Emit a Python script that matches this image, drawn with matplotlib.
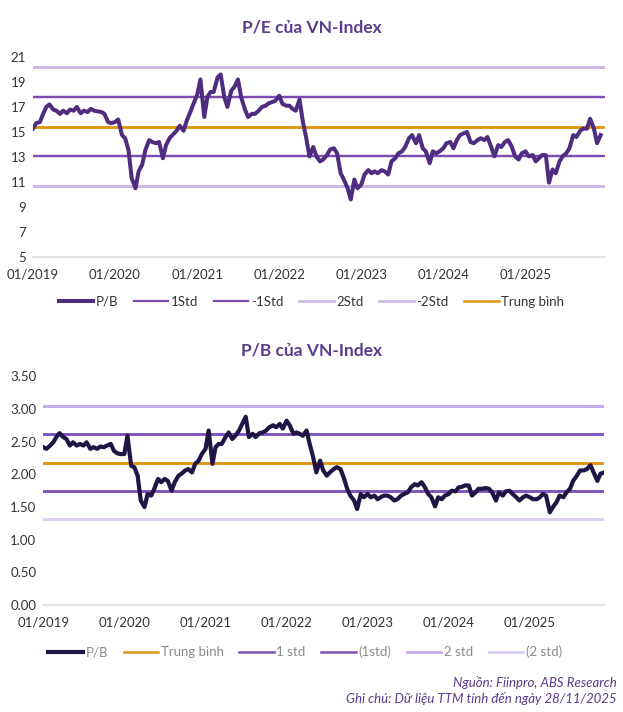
import matplotlib
matplotlib.use('Agg')
import numpy as np
import pandas as pd
import matplotlib.pyplot as plt
import matplotlib.dates as mdates

plt.rcParams['font.family'] = ['Lato', 'DejaVu Sans']

# semi-monthly readings, 01/2019 .. 11/2025
dates = pd.date_range('2019-01-01', periods=167, freq='SMS')

pe_values = [
    15.27, 15.7, 15.8, 16.45, 17.0, 17.2, 16.8, 16.7, 16.45, 16.7,
    16.5, 16.8, 16.7, 17.0, 16.5, 16.7, 16.6, 16.85, 16.7, 16.65,
    16.6, 16.45, 15.8, 15.7, 15.8, 16.0, 14.75, 14.5, 13.55, 11.3,
    10.5, 11.85, 12.4, 13.55, 14.35, 14.2, 14.1, 14.2, 12.9, 13.95,
    14.55, 14.8, 15.1, 15.5, 15.1, 15.9, 16.6, 17.25, 18.0, 19.2,
    16.2, 17.8, 18.2, 18.2, 19.35, 19.6, 17.8, 17.0, 18.3, 18.6,
    19.2, 17.8, 16.8, 16.2, 16.45, 16.45, 16.7, 17.0, 17.1, 17.3,
    17.4, 17.5, 17.9, 17.25, 17.1, 17.1, 16.85, 16.7, 17.6, 15.9,
    14.5, 13.05, 13.8, 13.05, 12.65, 12.8, 13.15, 13.6, 13.7, 13.3,
    11.7, 11.2, 10.5, 9.6, 11.2, 10.5, 10.8, 11.6, 11.95, 11.7,
    11.85, 11.7, 11.95, 11.85, 11.6, 12.65, 12.9, 13.3, 13.45, 13.8,
    14.5, 14.75, 14.1, 14.75, 13.7, 13.45, 12.5, 13.45, 13.3, 13.45,
    13.7, 14.1, 14.2, 13.7, 14.35, 14.75, 14.9, 15.0, 14.2, 14.1,
    14.35, 14.5, 14.35, 14.6, 13.8, 13.05, 13.95, 13.8, 14.2, 14.35,
    13.8, 13.05, 12.8, 13.3, 13.45, 13.05, 13.15, 12.65, 12.9, 13.15,
    13.15, 10.95, 12.0, 11.7, 12.65, 13.05, 13.3, 13.7, 14.75, 14.6,
    15.1, 15.27, 15.27, 16.05, 15.27, 14.1, 14.75,
]

pb_values = [
    2.415, 2.39, 2.44, 2.49, 2.57, 2.63, 2.57, 2.54, 2.44, 2.49,
    2.44, 2.465, 2.44, 2.49, 2.39, 2.415, 2.39, 2.425, 2.415, 2.44,
    2.465, 2.36, 2.32, 2.31, 2.31, 2.59, 2.13, 2.11, 1.98, 1.60,
    1.50, 1.70, 1.675, 1.78, 1.93, 1.88, 1.93, 1.90, 1.75, 1.88,
    1.98, 2.01, 2.06, 2.08, 2.03, 2.16, 2.21, 2.31, 2.39, 2.67,
    2.16, 2.415, 2.465, 2.465, 2.57, 2.64, 2.54, 2.59, 2.67, 2.77,
    2.88, 2.57, 2.62, 2.57, 2.63, 2.64, 2.67, 2.72, 2.75, 2.72,
    2.77, 2.70, 2.82, 2.75, 2.62, 2.64, 2.62, 2.59, 2.67, 2.465,
    2.26, 2.03, 2.21, 2.06, 1.98, 2.03, 2.08, 2.11, 2.08, 1.955,
    1.78, 1.675, 1.60, 1.47, 1.70, 1.65, 1.70, 1.65, 1.675, 1.62,
    1.65, 1.675, 1.675, 1.65, 1.60, 1.62, 1.675, 1.70, 1.725, 1.80,
    1.85, 1.83, 1.88, 1.81, 1.70, 1.65, 1.51, 1.65, 1.62, 1.675,
    1.70, 1.75, 1.74, 1.80, 1.81, 1.83, 1.83, 1.675, 1.725, 1.78,
    1.78, 1.79, 1.78, 1.725, 1.60, 1.725, 1.675, 1.74, 1.75, 1.70,
    1.65, 1.60, 1.65, 1.675, 1.65, 1.62, 1.62, 1.65, 1.70, 1.675,
    1.42, 1.50, 1.575, 1.675, 1.65, 1.725, 1.78, 1.90, 1.98, 2.06,
    2.06, 2.08, 2.14, 2.03, 1.90, 2.01, 2.03,
]

pe_mean, pe_std = 15.42, 2.37
pb_mean, pb_std = 2.18, 0.435

pe_yticks = [5, 7, 9, 11, 13, 15, 17, 19, 21]
pb_yticks = [0.0, 0.5, 1.0, 1.5, 2.0, 2.5, 3.0, 3.5]
xtick_dates = pd.to_datetime(['2019-01-01', '2020-01-01', '2021-01-01', '2022-01-01',
                              '2023-01-01', '2024-01-01', '2025-01-01'])

title_col = '#5a3d8c'
text_col = '#333333'
orange = '#e0950f'

fig = plt.figure(figsize=(6.23, 7.12), dpi=100)


def style_axes(ax, xmax):
    for s in ['top', 'right', 'left']:
        ax.spines[s].set_visible(False)
    ax.spines['bottom'].set_color('#e3e3e3')
    ax.spines['bottom'].set_linewidth(1.5)
    ax.tick_params(length=0, labelsize=9.5, colors=text_col)
    ax.tick_params(axis='x', pad=8)
    ax.tick_params(axis='y', pad=5)
    ax.set_xticks(xtick_dates)
    ax.xaxis.set_major_formatter(mdates.DateFormatter('%m/%Y'))
    ax.set_xlim(pd.Timestamp('2019-01-01'), pd.Timestamp(xmax))


# ---- P/E ----
ax1 = fig.add_axes([0.053, 0.639, 0.918, 0.281])
x = dates
ax1.plot(x, [pe_mean + pe_std] * len(x), color='#7b4db3', lw=1.6, label='1Std')
ax1.plot(x, [pe_mean - pe_std] * len(x), color='#7b4db3', lw=1.6, label='-1Std')
ax1.plot(x, [pe_mean + 2 * pe_std] * len(x), color='#cdb9e6', lw=2.0, label='2Std')
ax1.plot(x, [pe_mean - 2 * pe_std] * len(x), color='#cdb9e6', lw=2.0, label='-2Std')
ax1.plot(x, [pe_mean] * len(x), color=orange, lw=1.8, label='Trung bình')
ax1.plot(x, pe_values, color='#4f2c80', lw=2.9, label='P/B')
ax1.axhline(pe_mean + pe_std, color='#7b4db3', lw=1.6, zorder=1)
ax1.axhline(pe_mean - pe_std, color='#7b4db3', lw=1.6, zorder=1)
ax1.axhline(pe_mean + 2 * pe_std, color='#cdb9e6', lw=2.0, zorder=1)
ax1.axhline(pe_mean - 2 * pe_std, color='#cdb9e6', lw=2.0, zorder=1)
ax1.axhline(pe_mean, color=orange, lw=1.8, zorder=1)
ax1.set_ylim(5, 21)
ax1.set_yticks(pe_yticks)
style_axes(ax1, '2025-12-20')
h, l = ax1.get_legend_handles_labels()
order = [5, 0, 1, 2, 3, 4]
ax1.legend([h[i] for i in order], [l[i] for i in order], loc='center',
           bbox_to_anchor=(0.5, 0.576), bbox_transform=fig.transFigure, ncol=6,
           frameon=False, fontsize=9.5, handlelength=2.6, handletextpad=0.2,
           columnspacing=1.2, labelcolor=text_col)
fig.text(0.5, 0.962, 'P/E của VN-Index', ha='center', va='center', fontsize=12.5,
         fontweight='bold', color=title_col)

# ---- P/B ----
ax2 = fig.add_axes([0.0695, 0.150, 0.900, 0.3216])
ax2.plot(x, pb_values, color='#1f1645', lw=3.0, label='P/B', zorder=5)
ax2.plot(x, [pb_mean] * len(x), color=orange, lw=1.8, label='Trung bình')
ax2.plot(x, [pb_mean + pb_std] * len(x), color='#7e52bd', lw=1.8, label='1 std')
ax2.plot(x, [pb_mean - pb_std] * len(x), color='#7e52bd', lw=1.8, label='(1std)')
ax2.plot(x, [pb_mean + 2 * pb_std] * len(x), color='#c6abec', lw=2.0, label='2 std')
ax2.plot(x, [pb_mean - 2 * pb_std] * len(x), color='#ddd0f3', lw=2.0, label='(2 std)')
ax2.axhline(pb_mean, color=orange, lw=1.8, zorder=1)
ax2.axhline(pb_mean + pb_std, color='#7e52bd', lw=1.8, zorder=1)
ax2.axhline(pb_mean - pb_std, color='#7e52bd', lw=1.8, zorder=1)
ax2.axhline(pb_mean + 2 * pb_std, color='#c6abec', lw=2.0, zorder=1)
ax2.axhline(pb_mean - 2 * pb_std, color='#ddd0f3', lw=2.0, zorder=1)
ax2.set_ylim(0, 3.5)
ax2.set_yticks(pb_yticks)
ax2.set_yticklabels(['%.2f' % v for v in pb_yticks])
style_axes(ax2, '2025-12-01')
ax2.legend(loc='center', bbox_to_anchor=(0.49, 0.084), bbox_transform=fig.transFigure,
           ncol=6, frameon=False, fontsize=9.5, handlelength=2.6, handletextpad=0.2,
           columnspacing=1.2, labelcolor='#8a8a8a')
fig.text(0.5, 0.508, 'P/B của VN-Index', ha='center', va='center', fontsize=12.5,
         fontweight='bold', color=title_col)

fig.text(0.99, 0.042, 'Nguồn: Fiinpro, ABS Research', ha='right', va='center',
         fontsize=9.5, style='italic', color=title_col)
fig.text(0.99, 0.019, 'Ghi chú: Dữ liệu TTM tính đến ngày 28/11/2025', ha='right',
         va='center', fontsize=9.5, style='italic', color=title_col)

fig.savefig('out.png', dpi=100)
